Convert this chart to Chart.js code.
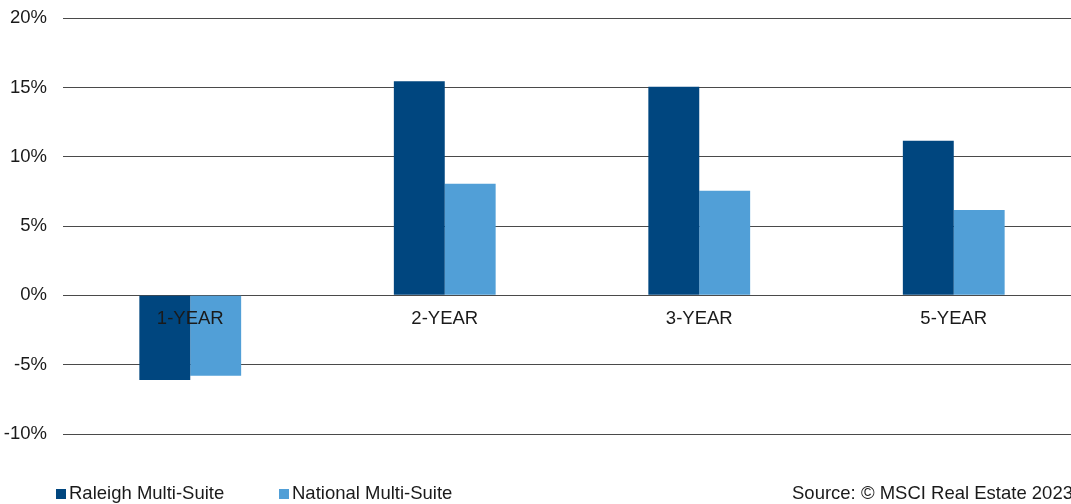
<!DOCTYPE html>
<html>
<head>
<meta charset="utf-8">
<script src="https://cdn.jsdelivr.net/npm/chart.js@4/dist/chart.umd.min.js"></script>
<style>
  html, body { margin: 0; padding: 0; background: #fff; overflow: hidden; width: 1071px; height: 504px; }
  #wrap { position: absolute; left: 0; top: -9px; width: 1082px; height: 513px; }
  .lg { position: absolute; top: 482px; font: 18.5px "Liberation Sans", Arial, sans-serif; color: #1a1a1a; white-space: nowrap; line-height: 22px; }
  .sw { display: inline-block; width: 10px; height: 10px; margin-right: 3px; vertical-align: 0px; }
</style>
</head>
<body>
<div id="wrap"><canvas id="c" width="1082" height="513"></canvas></div>
<div class="lg" style="left:56px"><span class="sw" style="background:#00467F"></span>Raleigh Multi-Suite</div>
<div class="lg" style="left:279px"><span class="sw" style="background:#519FD7"></span>National Multi-Suite</div>
<div class="lg" style="left:792px">Source: © MSCI Real Estate 2023</div>
<script>
const categories = ["1-YEAR", "2-YEAR", "3-YEAR", "5-YEAR"];
const raleighValues = [-6.1, 15.45, 15.05, 11.15];
const nationalValues = [-5.8, 8.05, 7.55, 6.15];
const yTickValues = [-10, -5, 0, 5, 10, 15, 20];

new Chart(document.getElementById('c'), {
  type: 'bar',
  data: {
    labels: categories,
    datasets: [
      { label: 'Raleigh Multi-Suite', data: raleighValues, backgroundColor: '#00467F', categoryPercentage: 0.4, barPercentage: 1.0 },
      { label: 'National Multi-Suite', data: nationalValues, backgroundColor: '#519FD7', categoryPercentage: 0.4, barPercentage: 1.0 }
    ]
  },
  options: {
    responsive: false,
    animation: false,
    layout: { padding: { top: 10, bottom: 70, left: 0, right: 1 } },
    plugins: { legend: { display: false }, tooltip: { enabled: false } },
    scales: {
      x: {
        position: { y: 0 },
        grid: { display: false, drawTicks: false },
        border: { display: false },
        ticks: { z: 1, font: { family: '"Liberation Sans", Arial, sans-serif', size: 18.5 }, color: '#1a1a1a', padding: 12, maxRotation: 0 }
      },
      y: {
        min: -10, max: 20,
        afterFit: (s) => { s.width = 63; },
        afterBuildTicks: (s) => { s.ticks = yTickValues.map(v => ({ value: v })); },
        grid: { color: '#4a4a4a', lineWidth: 1, drawTicks: false },
        border: { display: false },
        ticks: {
          font: { family: '"Liberation Sans", Arial, sans-serif', size: 18.5 },
          color: '#1a1a1a', padding: 16,
          callback: (v) => v + '%'
        }
      }
    }
  }
});
</script>
</body>
</html>
